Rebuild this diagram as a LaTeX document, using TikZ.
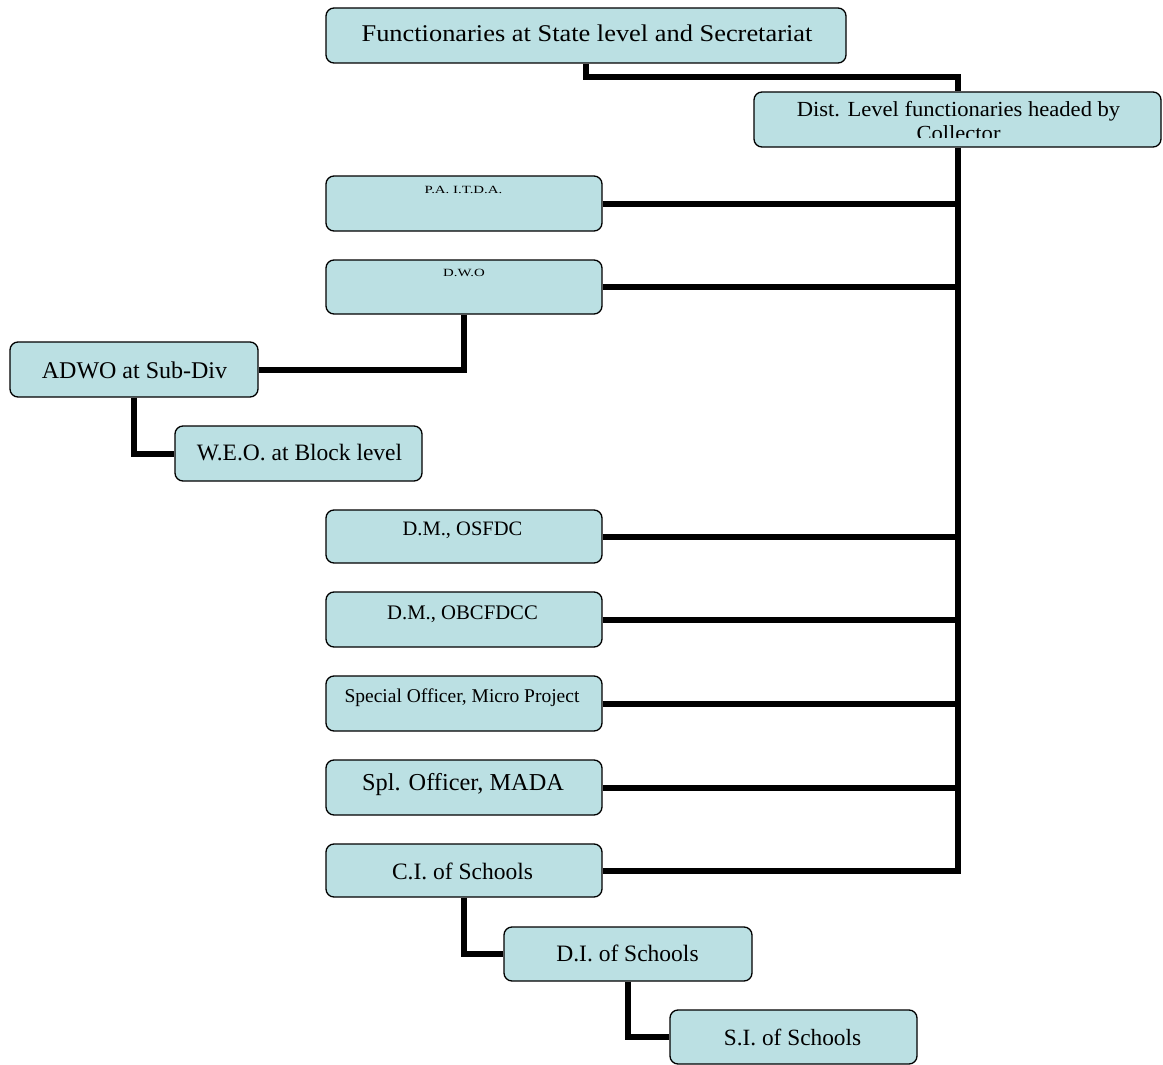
\documentclass[tikz,border=0pt]{standalone}
\usepackage{fontspec}
\setmainfont{Liberation Serif}
\definecolor{boxfill}{RGB}{187,224,227}
\tikzset{
  box/.style={draw=black, line width=1.3pt, rounded corners=8pt, fill=boxfill, inner sep=0pt},
  wide/.style={box, minimum width=276pt, minimum height=55pt},
  lbl/.style={inner sep=0pt, align=center},
  conn/.style={line width=6pt, miter limit=10, line join=miter},
}
\newcommand{\fs}[1]{\fontsize{#1}{#1}\selectfont}
\begin{document}
\begin{tikzpicture}[x=1pt,y=-1pt]
\useasboundingbox (0,0) rectangle (1163,1065);
% boxes
\node[box, minimum width=520pt, minimum height=55pt] (top) at (586,35.5) {};
\node[box, minimum width=407pt, minimum height=55pt] (dist) at (957.5,119.5) {};
\node[wide] (pa) at (464,203.5) {};
\node[wide, minimum height=54pt] (dwo) at (464,287) {};
\node[box, minimum width=248pt, minimum height=55pt] (adwo) at (134,369.5) {};
\node[box, minimum width=247pt, minimum height=55pt] (weo) at (298.5,453.5) {};
\node[wide, minimum height=53pt] (osf) at (464,536.5) {};
\node[wide] (obc) at (464,619.5) {};
\node[wide] (spo) at (464,703.5) {};
\node[wide] (mada) at (464,787.5) {};
\node[wide, minimum height=53pt] (ci) at (464,870.5) {};
\node[box, minimum width=248pt, minimum height=54pt] (di) at (628,954) {};
\node[box, minimum width=247pt, minimum height=54pt] (si) at (793.5,1037) {};
% texts
\node[lbl, font=\fs{24}, anchor=base] (topt) at (587,41.5) {\scalebox{1.1}[1]{Functionaries at State level and Secretariat}};
\begin{scope}
\clip (754,92) rectangle (1161,137.5);
\node[lbl, font=\fs{21.5}, anchor=base] (distt1) at (958.5,117) {\scalebox{1.05}[1]{Dist. Level functionaries headed by}};
\node[lbl, font=\fs{21.5}, anchor=base] (distt2) at (958.5,140) {\scalebox{1.05}[1]{Collector}};
\end{scope}
\node[lbl, font=\fs{11}] (pat) at (463.5,190) {\scalebox{1.35}[1]{P.A. I.T.D.A.}};
\node[lbl, font=\fs{11}] (dwot) at (464,273) {\scalebox{1.35}[1]{D.W.O}};
\node[lbl, font=\fs{24}] (adwot) at (134.5,370) {ADWO at Sub-Div};
\node[lbl, font=\fs{23.5}] (weot) at (299.5,453) {W.E.O. at Block level};
\node[lbl, font=\fs{20.5}] (osft) at (462.5,530) {D.M., OSFDC};
\node[lbl, font=\fs{20.7}] (obct) at (462.5,614) {D.M., OBCFDCC};
\node[lbl, font=\fs{19.5}] (spot) at (462,698) {Special Officer, Micro Project};
\node[lbl, font=\fs{24.3}] (madat) at (463,785) {Spl. Officer, MADA};
\node[lbl, font=\fs{23.5}] (cit) at (462.5,871) {C.I. of Schools};
\node[lbl, font=\fs{23.5}] (dit) at (627.5,953) {D.I. of Schools};
\node[lbl, font=\fs{23.3}] (sit) at (792.5,1037) {S.I. of Schools};
% connectors
\draw[conn] (top.south) -- ++(0,13) -| (dist.north);
\draw[conn] (dist.south) -- (dist.south |- ci.east) -- (ci.east);
\foreach \n in {pa,dwo,osf,obc,spo,mada}
  \draw[conn] (\n.east) -- (\n.east -| dist.south);
\draw[conn] (dwo.south) |- (adwo.east);
\draw[conn] (adwo.south) |- (weo.west);
\draw[conn] (ci.south) |- (di.west);
\draw[conn] (di.south) |- (si.west);
\end{tikzpicture}
\end{document}
